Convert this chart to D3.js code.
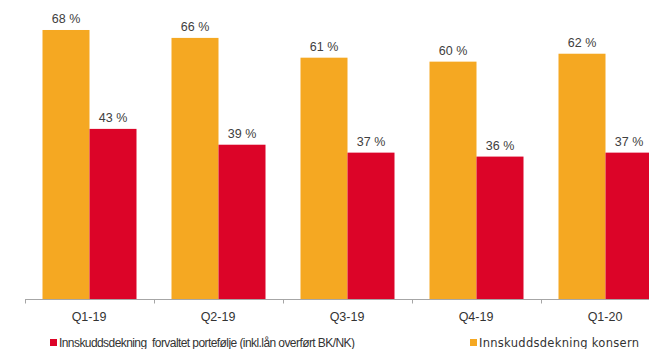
<!DOCTYPE html>
<html>
<head>
<meta charset="utf-8">
<script src="https://cdn.jsdelivr.net/npm/d3@7"></script>
<style>
  html, body { margin: 0; padding: 0; background: #fff; }
  svg { display: block; font-family: "Liberation Sans", Arial, sans-serif; }
</style>
</head>
<body>
<svg id="chart" width="649" height="349"></svg>
<script>
// Quarterly deposit coverage ratios (%)
const categories = ["Q1-19", "Q2-19", "Q3-19", "Q4-19", "Q1-20"];
const konsern = [68, 66, 61, 60, 62];
const forvaltet = [43, 39, 37, 36, 37];
const seriesNames = [
  "Innskuddsdekning  forvaltet portefølje (inkl.lån overført BK/NK)",
  "Innskuddsdekning konsern"
];

const colOrange = "#F5A822";
const colRed = "#DC0428";

const svg = d3.select("#chart");

// Band per quarter; the last band runs past the right edge
const step = 129;
const x0 = 25;
const x = d3.scaleBand()
  .domain(categories)
  .range([x0, x0 + step * categories.length])
  .paddingInner(0)
  .paddingOuter(0);

const inner = d3.scaleBand()
  .domain(["konsern", "forvaltet"])
  .range([17.5, step - 17.5]);

const y = d3.scaleLinear().domain([0, 75]).range([299, 2.3]);

const rows = categories.map((c, i) => ({
  cat: c,
  vals: [
    { key: "konsern", v: konsern[i], color: colOrange },
    { key: "forvaltet", v: forvaltet[i], color: colRed }
  ]
}));

const groups = svg.selectAll("g.grp")
  .data(rows)
  .join("g")
  .attr("class", "grp")
  .attr("transform", d => `translate(${x(d.cat)},0)`);

groups.selectAll("rect")
  .data(d => d.vals)
  .join("rect")
  .attr("x", d => inner(d.key))
  .attr("width", inner.bandwidth())
  .attr("y", d => y(d.v))
  .attr("height", d => y(0) - y(d.v))
  .attr("fill", d => d.color);

groups.selectAll("text.val")
  .data(d => d.vals)
  .join("text")
  .attr("class", "val")
  .attr("x", d => inner(d.key) + inner.bandwidth() / 2)
  .attr("y", d => y(d.v) - 7)
  .attr("text-anchor", "middle")
  .attr("font-size", 12.5)
  .attr("fill", "#404040")
  .text(d => `${d.v} %`);

// Category axis with ticks between quarters
const axisG = svg.append("g").attr("transform", `translate(0,${y(0) + 0.5})`);
axisG.append("line")
  .attr("x1", x0).attr("x2", 649)
  .attr("stroke", "#A6A6A6").attr("stroke-width", 1.2);
axisG.selectAll("line.tick")
  .data(categories)
  .join("line")
  .attr("class", "tick")
  .attr("x1", d => x(d) + 0.5).attr("x2", d => x(d) + 0.5)
  .attr("y1", 0).attr("y2", 4)
  .attr("stroke", "#A6A6A6");
axisG.selectAll("text")
  .data(categories)
  .join("text")
  .attr("x", d => x(d) + x.bandwidth() / 2 - 0.5)
  .attr("y", 21)
  .attr("text-anchor", "middle")
  .attr("font-size", 12.5)
  .attr("fill", "#333333")
  .text(d => d);

// Legend
const legend = [
  { name: seriesNames[0], color: colRed, x: 50, len: 296, font: "Liberation Sans", size: 12 },
  { name: seriesNames[1], color: colOrange, x: 470, len: 160, font: "DejaVu Sans", size: 11.5 }
];
const lg = svg.selectAll("g.leg")
  .data(legend)
  .join("g")
  .attr("class", "leg")
  .attr("transform", d => `translate(${d.x},0)`);
lg.append("rect")
  .attr("x", 0).attr("y", 339)
  .attr("width", 7).attr("height", 7)
  .attr("fill", d => d.color);
lg.append("text")
  .attr("x", 9).attr("y", 347)
  .attr("font-size", d => d.size)
  .attr("font-family", d => d.font)
  .attr("fill", "#333333")
  .attr("textLength", d => d.len)
  .attr("lengthAdjust", "spacing")
  .style("white-space", "pre")
  .text(d => d.name);
</script>
</body>
</html>
